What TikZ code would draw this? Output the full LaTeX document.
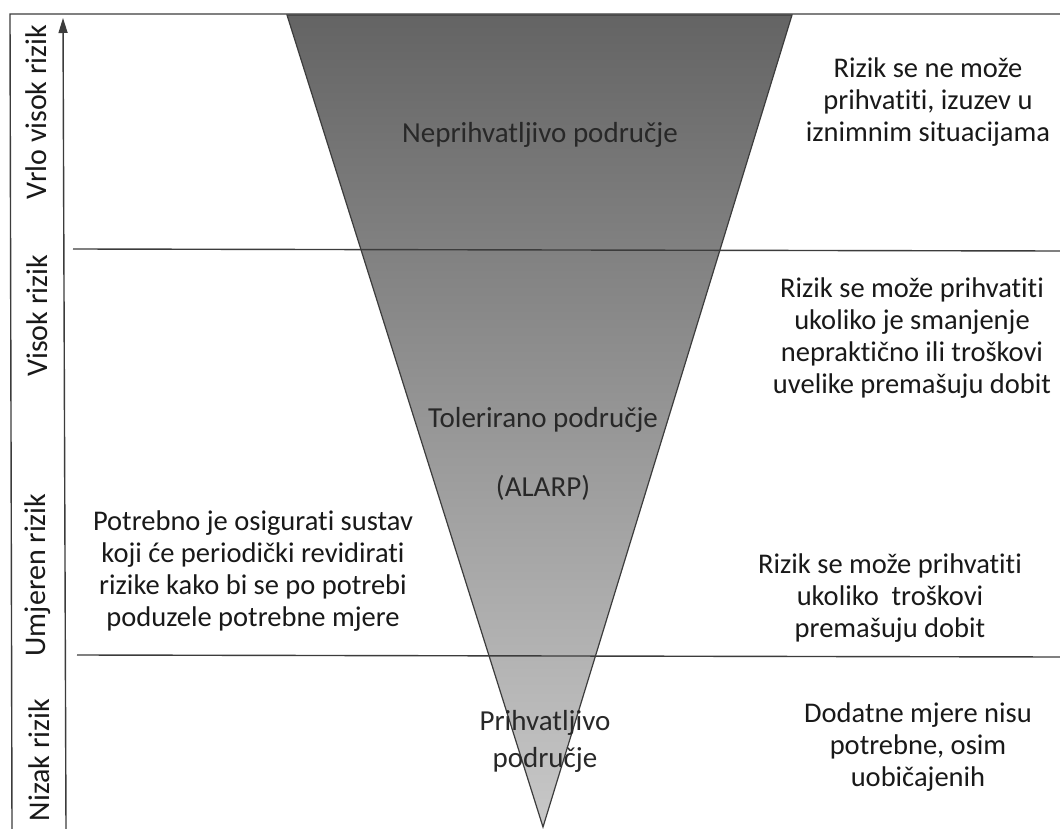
\documentclass[tikz,border=0pt]{standalone}
\usepackage{fontspec}
\setmainfont[Ligatures=NoCommon]{Carlito}
\usetikzlibrary{arrows.meta}
\definecolor{txt}{RGB}{25,25,25}
\definecolor{ln}{RGB}{60,60,60}
\definecolor{tritop}{RGB}{100,100,100}
\definecolor{tribot}{RGB}{200,200,200}
\tikzset{
  blk/.style={align=center, text=txt, font=\fontsize{28.5}{32}\selectfont, inner sep=0pt},
  inner/.style={align=center, text=txt!85!gray, font=\fontsize{29}{37}\selectfont, inner sep=0pt},
  axlab/.style={rotate=90, text=txt, font=\fontsize{30}{32}\selectfont, inner sep=0pt},
  rule/.style={draw=ln, line width=1.4pt},
}
\begin{document}
\begin{tikzpicture}[x=1pt,y=-1pt]
\useasboundingbox[fill=white] (0,0) rectangle (1060,829);
% triangle
\shade[top color=tritop, bottom color=tribot, draw=ln, line width=1.2pt]
  (287,15) -- (792,15) -- (543,827) -- cycle;
% frame and dividers
\draw[rule] (12,829) -- (10,14) -- (1060,14);
\draw[rule] (73,249) -- (1060,251);
\draw[rule] (77,655) -- (1060,657);
% axis
\coordinate (axbot) at (66,829);
\coordinate (axtop) at (63,18);
\draw[draw=ln, line width=1.4pt, -{Triangle[length=15pt,width=9pt]}] (axbot) -- (axtop);
% axis labels
\node[axlab] (l1) at (36,112) {Vrlo visok rizik};
\node[axlab] (l2) at (37,316) {Visok rizik};
\node[axlab] (l3) at (38,575) {Umjeren rizik};
\node[axlab] (l4) at (39,760) {Nizak rizik};
% inner texts
\node[inner] (t1) at (540,135) {Neprihvatljivo područje};
\node[inner] (t2) at (543,420) {Tolerirano područje};
\node[inner] (t3) at (543,488) {(ALARP)};
\node[inner] (t4) at (545,741) {Prihvatljivo\\područje};
% right texts
\node[blk] (r1) at (928,102) {Rizik se ne može\\prihvatiti, izuzev u\\iznimnim situacijama};
\node[blk] (r2) at (912,338) {Rizik se može prihvatiti\\ukoliko je smanjenje\\nepraktično ili troškovi\\uvelike premašuju dobit};
\node[blk] (r3) at (890,598) {Rizik se može prihvatiti\\ukoliko\ \ troškovi\\premašuju dobit};
\node[blk] (r4) at (918,747) {Dodatne mjere nisu\\potrebne, osim\\uobičajenih};
% left text
\node[blk] (p1) at (253,571) {Potrebno je osigurati sustav\\koji će periodički revidirati\\rizike kako bi se po potrebi\\poduzele potrebne mjere};
\end{tikzpicture}
\end{document}
